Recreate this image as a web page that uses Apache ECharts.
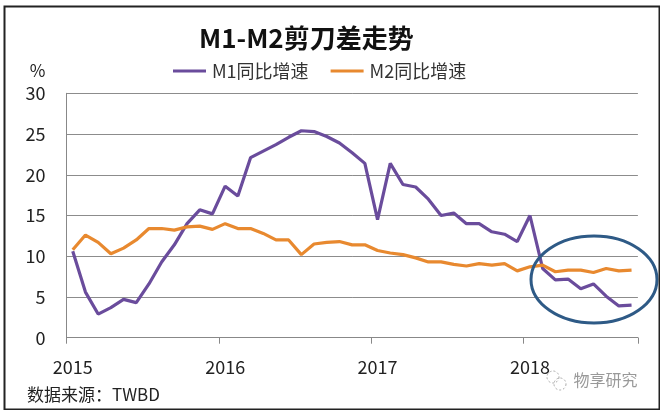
<!DOCTYPE html>
<html>
<head>
<meta charset="utf-8">
<script src="https://cdn.jsdelivr.net/npm/echarts@6/dist/echarts.min.js"></script>
<style>
html,body{margin:0;padding:0;background:#fff;}
#c{width:660px;height:410px;}
</style>
</head>
<body>
<div id="c"></div>
<script>
var months = [];
for (var y = 2015; y <= 2018; y++) {
  for (var m = 1; m <= 12; m++) {
    if (y === 2018 && m > 9) break;
    months.push(y + '-' + (m < 10 ? '0' + m : m));
  }
}
var m1Name = 'M1同比增速';
var m2Name = 'M2同比增速';
var m1Values = [10.6, 5.6, 2.9, 3.7, 4.7, 4.3, 6.6, 9.3, 11.4, 14.0, 15.7, 15.2,
  18.6, 17.4, 22.1, 22.9, 23.7, 24.6, 25.4, 25.3, 24.7, 23.9, 22.7, 21.4,
  14.5, 21.4, 18.8, 18.5, 17.0, 15.0, 15.3, 14.0, 14.0, 13.0, 12.7, 11.8,
  15.0, 8.5, 7.1, 7.2, 6.0, 6.6, 5.1, 3.9, 4.0];
var m2Values = [10.8, 12.6, 11.7, 10.3, 11.0, 12.0, 13.4, 13.4, 13.2, 13.6, 13.7, 13.3,
  14.0, 13.4, 13.4, 12.8, 12.0, 12.0, 10.2, 11.5, 11.7, 11.8, 11.4, 11.4,
  10.7, 10.4, 10.2, 9.8, 9.3, 9.3, 9.0, 8.8, 9.1, 8.9, 9.1, 8.2,
  8.7, 8.9, 8.1, 8.3, 8.3, 8.0, 8.5, 8.2, 8.3];
var yTicks = [0, 5, 10, 15, 20, 25, 30];

var chart = echarts.init(document.getElementById('c'), null, {renderer: 'canvas'});
var cjk = '"Noto Sans CJK SC", "Noto Sans", sans-serif';
chart.setOption({
  animation: false,
  backgroundColor: '#fff',
  title: {
    text: 'M1-M2剪刀差走势',
    left: 194, top: 20,
    textStyle: {fontSize: 26, fontWeight: 'bold', color: '#111', fontFamily: cjk}
  },
  legend: {
    data: [m1Name, m2Name],
    left: 168, top: 57,
    icon: 'rect',
    itemWidth: 33, itemHeight: 3, itemGap: 22,
    textStyle: {fontSize: 18, color: '#333', fontFamily: cjk, padding: [0, 0, 0, 1]}
  },
  grid: {left: 66.4, top: 93.3, width: 571.5, height: 244.4, containLabel: false},
  xAxis: {
    type: 'category',
    data: months,
    boundaryGap: true,
    axisLine: {lineStyle: {color: '#888', width: 1}},
    axisTick: {show: true, interval: 11, length: 6, inside: false, lineStyle: {color: '#888'}},
    axisLabel: {
      interval: 11, margin: 20, fontSize: 18, color: '#222', fontFamily: cjk,
      formatter: function (v) { return v.slice(0, 4); }
    },
    splitLine: {show: false}
  },
  yAxis: {
    type: 'value',
    min: yTicks[0], max: yTicks[yTicks.length - 1], interval: 5,
    name: '%',
    nameLocation: 'end',
    nameGap: 14,
    nameTextStyle: {fontSize: 17, color: '#222', fontFamily: cjk, align: 'right', padding: [0, 21, 0, 0]},
    axisLine: {show: true, lineStyle: {color: '#888'}},
    axisTick: {show: false},
    axisLabel: {margin: 21, fontSize: 18, color: '#222', fontFamily: cjk},
    splitLine: {lineStyle: {color: '#8c8c8c', width: 1}}
  },
  series: [
    {
      name: m1Name, type: 'line', data: m1Values,
      symbol: 'none', smooth: false,
      lineStyle: {color: '#6a4c9c', width: 3.2},
      itemStyle: {color: '#6a4c9c'}
    },
    {
      name: m2Name, type: 'line', data: m2Values,
      symbol: 'none', smooth: false,
      lineStyle: {color: '#e8892f', width: 3.2},
      itemStyle: {color: '#e8892f'}
    }
  ],
  graphic: [
    {type: 'rect', left: 2, top: 4, shape: {width: 655, height: 403},
      style: {fill: 'none', stroke: '#222', lineWidth: 2}, z: 100, silent: true},
    {type: 'ellipse', shape: {cx: 594, cy: 279.5, rx: 63, ry: 43.5},
      style: {fill: 'none', stroke: '#2e5a86', lineWidth: 3}, z: 50},
    {type: 'text', left: 27, top: 386,
      style: {text: '数据来源：TWBD', fontSize: 17, fill: '#222', fontFamily: cjk}},
    {type: 'circle', shape: {cx: 553, cy: 377, r: 6},
      style: {fill: 'none', stroke: '#aaa', lineWidth: 1, lineDash: [2, 2]}},
    {type: 'circle', shape: {cx: 560, cy: 384, r: 6},
      style: {fill: 'none', stroke: '#aaa', lineWidth: 1, lineDash: [2, 2]}},
    {type: 'text', left: 573, top: 371,
      style: {text: '物享研究', fontSize: 16, fill: '#999', stroke: '#fff', lineWidth: 1, fontFamily: cjk}}
  ]
});
</script>
</body>
</html>
